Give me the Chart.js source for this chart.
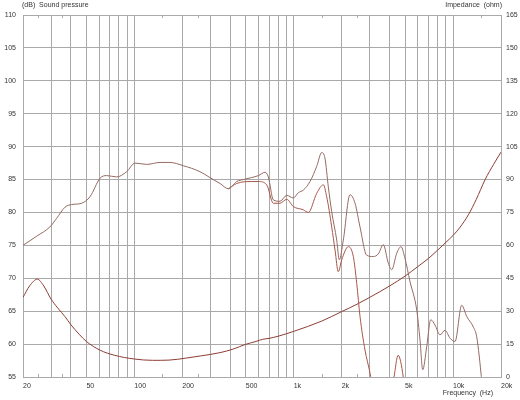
<!DOCTYPE html>
<html>
<head>
<meta charset="utf-8">
<script src="https://cdn.jsdelivr.net/npm/chart.js@4.4.0/dist/chart.umd.min.js"></script>
<style>
html, body { margin: 0; padding: 0; background: #fff; }
</style>
</head>
<body>
<canvas id="chart" width="520" height="400"></canvas>
<script>
// Frequency axis: grid lines, labelled values, small half-step ticks
const gridFreqs = [20, 30, 40, 50, 60, 70, 80, 90, 100, 200, 300, 400, 500, 600, 700, 800, 900,
    1000, 2000, 3000, 4000, 5000, 6000, 7000, 8000, 9000, 10000, 20000];
const labelFreqs = [20, 50, 100, 200, 500, 1000, 2000, 5000, 10000, 20000];
const minorFreqs = [25, 35, 150, 250, 1500, 2500, 15000];

// Sound pressure, upper curve (dB)
const splUpperFreq = [20, 24.4, 29.5, 32.5, 36.7, 40.4, 46.7, 52.7, 60.9, 67, 77.5, 89.5, 101, 119.5, 145, 167,
    203, 258, 298, 345, 389, 439, 483, 545, 600, 661, 693, 745, 820, 904, 994, 1069, 1150, 1266, 1394, 1499,
    1572, 1649, 1732, 1862, 1933, 2048, 2256, 2426, 2607, 2871, 3159, 3396, 3651, 3924, 4124, 4432, 4715,
    4996, 5370, 5916, 6206, 6452, 6836, 7243, 7706, 8284, 8904, 9572, 10290, 11336, 12186, 13406, 14081,
    15136, 16000];
const splUpperDb = [75.0, 76.4, 77.8, 79.1, 80.8, 81.2, 81.4, 82.4, 85.2, 85.6, 85.4, 86.2, 87.5, 87.3, 87.6, 87.6,
    87.1, 86.2, 85.3, 84.4, 83.6, 84.7, 85.0, 85.3, 85.6, 86.1, 85.4, 81.9, 81.7, 82.6, 82.2, 83.0, 83.4, 84.7, 87.0, 89.1,
    88.2, 83.9, 80.1, 75.8, 72.8, 75.8, 82.7, 81.4, 77.8, 73.5, 73.3, 73.7, 75.1, 72.3, 71.3, 73.8, 74.8,
    73.0, 69.5, 65.2, 60.6, 56.1, 59.6, 63.7, 62.9, 61.4, 62.1, 60.9, 60.4, 65.9, 64.2, 62.6, 61.1,
    54.5, 48];

// Sound pressure, lower curve (dB) - splits off the upper one near 400 Hz
const splLowerFreq = [389, 439, 545, 600, 677, 745, 820, 904, 994, 1149, 1235, 1394, 1534, 1611, 1732, 1817,
    1905, 2001, 2202, 2367, 2487, 2607, 2802, 3012, 3250, 3700, 4260, 4520, 4870, 5200];
const splLowerDb = [83.6, 84.4, 84.7, 84.7, 84.2, 81.4, 81.4, 82.0, 80.9, 80.4, 80.0, 82.9, 84.2, 82.4, 77.8, 74.3,
    71.0, 72.8, 74.8, 73.3, 69.2, 64.2, 59.1, 55.6, 51, 48, 55, 58.3, 55, 48];

// Impedance (ohm)
const impFreq = [20, 22, 24.6, 27, 30, 33, 36.7, 40, 45, 50, 61, 75, 100, 130, 165, 210, 260, 345, 420, 495,
    580, 640, 700, 800, 1000, 1500, 2000, 2500, 3000, 4000, 5000, 6000, 7000, 8000, 9000, 10000, 11000,
    12500, 14000, 15900, 18000, 20000];
const impOhm = [36.3, 41.5, 44.6, 41.5, 35.5, 31.5, 27.5, 23.8, 19.5, 16.2, 12.2, 9.9, 8.2, 7.6, 7.7, 8.6, 9.6, 11.1, 12.8, 14.8,
    16.2, 17.2, 17.6, 18.6, 20.8, 25.5, 29.8, 33.2, 36.3, 41.5, 46, 50.3, 54, 57.8, 61.3, 64.5, 68,
    74, 81, 90, 97, 102.5];

const FONT = 'Liberation Sans, Arial, sans-serif';
const GRID = '#a9a9a9';
const TEXT = '#333';

function toPoints(xs, ys) {
    return xs.map((x, i) => ({ x: x, y: ys[i] }));
}

function freqLabel(v) {
    return v >= 1000 ? (v / 1000) + 'k' : String(v);
}

// Axis titles and the small ticks on top/bottom borders
const extrasPlugin = {
    id: 'extras',
    afterDraw(chart) {
        const ctx = chart.ctx;
        const a = chart.chartArea;
        const xs = chart.scales.x;
        ctx.save();
        ctx.font = '7px ' + FONT;
        ctx.fillStyle = TEXT;
        ctx.textBaseline = 'middle';
        ctx.textAlign = 'left';
        ctx.fillText('(dB)  Sound pressure', a.left - 1, 5);
        ctx.textAlign = 'right';
        ctx.fillText('Impedance  (ohm)', a.right + 1, 5);
        ctx.fillText('Frequency  (Hz)', a.right - 8, a.bottom + 16);

        ctx.strokeStyle = GRID;
        ctx.lineWidth = 1;
        ctx.beginPath();
        minorFreqs.forEach(f => {
            const px = Math.round(xs.getPixelForValue(f)) + 0.5;
            ctx.moveTo(px, a.top);
            ctx.lineTo(px, a.top + 3);
            ctx.moveTo(px, a.bottom);
            ctx.lineTo(px, a.bottom - 3);
        });
        ctx.stroke();
        ctx.restore();
    }
};

new Chart(document.getElementById('chart').getContext('2d'), {
    type: 'line',
    data: {
        datasets: [
            {
                label: 'Sound pressure',
                data: toPoints(splUpperFreq, splUpperDb),
                borderColor: '#946a62',
                yAxisID: 'y'
            },
            {
                label: 'Sound pressure (2)',
                data: toPoints(splLowerFreq, splLowerDb),
                borderColor: '#a8564a',
                yAxisID: 'y'
            },
            {
                label: 'Impedance',
                data: toPoints(impFreq, impOhm),
                borderColor: '#8c3d33',
                yAxisID: 'y1'
            }
        ]
    },
    options: {
        responsive: false,
        animation: false,
        layout: { padding: { top: 15, left: 0, right: 0, bottom: 0 } },
        elements: {
            point: { radius: 0 },
            line: { borderWidth: 1, cubicInterpolationMode: 'monotone', fill: false }
        },
        plugins: {
            legend: { display: false },
            tooltip: { enabled: false }
        },
        scales: {
            x: {
                type: 'logarithmic',
                min: 20,
                max: 20000,
                afterBuildTicks: s => { s.ticks = gridFreqs.map(v => ({ value: v })); },
                afterFit: s => { s.height = 23; },
                grid: { color: GRID, drawTicks: false },
                border: { color: GRID },
                ticks: {
                    autoSkip: false,
                    maxRotation: 0,
                    align: 'start',
                    padding: 5,
                    color: TEXT,
                    font: { family: FONT, size: 7 },
                    callback: v => labelFreqs.includes(v) ? freqLabel(v) : ''
                }
            },
            y: {
                position: 'left',
                min: 55,
                max: 110,
                afterFit: s => { s.width = 23; },
                grid: { color: GRID, drawTicks: false },
                border: { color: GRID },
                ticks: { stepSize: 5, padding: 7, color: TEXT, font: { family: FONT, size: 7 } }
            },
            y1: {
                position: 'right',
                min: 0,
                max: 165,
                afterFit: s => { s.width = 19; },
                grid: { display: false, drawTicks: false },
                border: { color: GRID },
                ticks: { stepSize: 15, padding: 5, color: TEXT, font: { family: FONT, size: 7 } }
            }
        }
    },
    plugins: [extrasPlugin]
});
</script>
</body>
</html>
